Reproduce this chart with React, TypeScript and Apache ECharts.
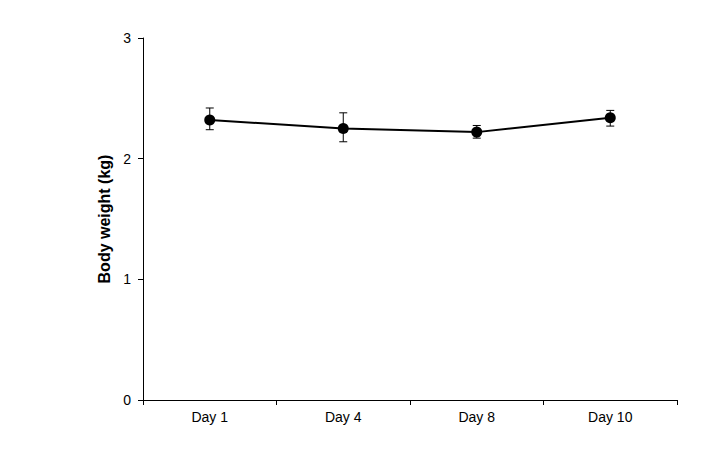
import React, { useEffect, useRef } from "react";
import * as echarts from "echarts";

const categories = ["Day 1", "Day 4", "Day 8", "Day 10"];
const meanValues = [2.32, 2.25, 2.22, 2.34];
const errLow = [2.24, 2.14, 2.17, 2.27];
const errHigh = [2.42, 2.38, 2.275, 2.40];
const yTicks = [0, 1, 2, 3];

export default function App() {
  const ref = useRef<HTMLDivElement>(null);
  useEffect(() => {
    if (!ref.current) return;
    const chart = echarts.init(ref.current, undefined, { renderer: "svg" });
    const font = "'Liberation Sans', Arial, sans-serif";
    chart.setOption({
      animation: false,
      backgroundColor: "#ffffff",
      grid: { left: 143, right: 34, top: 38, bottom: 60 },
      xAxis: {
        type: "category",
        data: categories,
        boundaryGap: true,
        axisLine: { lineStyle: { color: "#000", width: 1 } },
        axisTick: { show: true, length: 5, lineStyle: { color: "#000" } },
        axisLabel: { color: "#000", fontSize: 14, fontFamily: font, margin: 10 },
        splitLine: { show: false },
      },
      yAxis: {
        type: "value",
        min: yTicks[0],
        max: yTicks[yTicks.length - 1],
        interval: 1,
        name: "Body weight (kg)",
        nameLocation: "middle",
        nameGap: 22,
        nameRotate: 90,
        nameTextStyle: { color: "#000", fontSize: 16, fontWeight: "bold", fontFamily: font },
        axisLine: { show: true, lineStyle: { color: "#000", width: 1 } },
        axisTick: { show: true, length: 5, lineStyle: { color: "#000" } },
        axisLabel: { color: "#000", fontSize: 14, fontFamily: font, margin: 12 },
        splitLine: { show: false },
      },
      series: [
        {
          type: "custom",
          data: categories.map((_, i) => [i, errLow[i], errHigh[i]]),
          renderItem: (params: any, api: any) => {
            const x = api.value(0);
            const lo = api.coord([x, api.value(1)]);
            const hi = api.coord([x, api.value(2)]);
            const hw = 4;
            const style = { stroke: "#000", lineWidth: 1 };
            return {
              type: "group",
              children: [
                { type: "line", shape: { x1: lo[0], y1: lo[1], x2: hi[0], y2: hi[1] }, style },
                { type: "line", shape: { x1: lo[0] - hw, y1: lo[1], x2: lo[0] + hw, y2: lo[1] }, style },
                { type: "line", shape: { x1: hi[0] - hw, y1: hi[1], x2: hi[0] + hw, y2: hi[1] }, style },
              ],
            };
          },
          z: 3,
        },
        {
          type: "line",
          data: meanValues,
          symbol: "circle",
          symbolSize: 11,
          itemStyle: { color: "#000" },
          lineStyle: { color: "#000", width: 2 },
          z: 2,
        },
      ],
    });
    return () => chart.dispose();
  }, []);
  return (
    <div
      ref={ref}
      style={{ position: "absolute", left: 0, top: 0, width: 711, height: 460 }}
    />
  );
}
